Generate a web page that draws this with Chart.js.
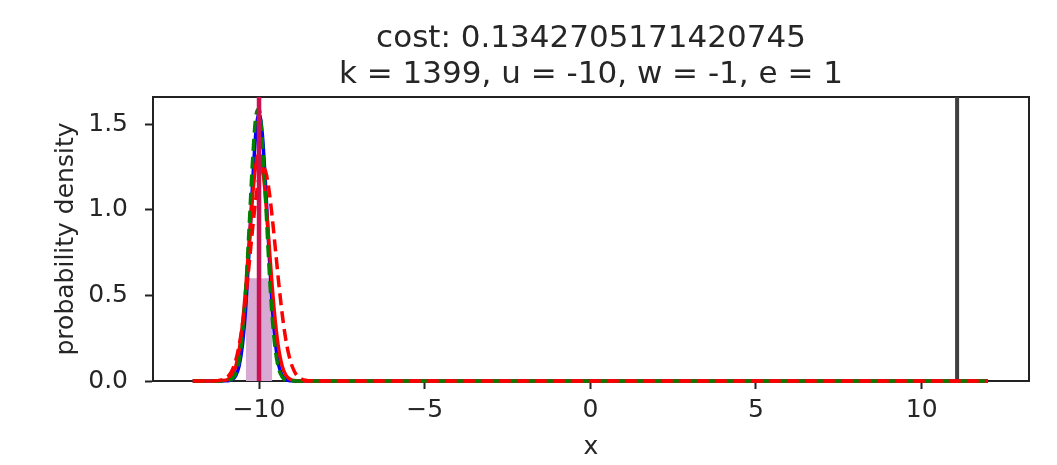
<!DOCTYPE html>
<html>
<head>
<meta charset="utf-8">
<script src="https://cdn.jsdelivr.net/npm/chart.js@4"></script>
<style>
  html, body { margin: 0; padding: 0; background: #fff; }
  canvas { display: block; }
</style>
</head>
<body>
<canvas id="densityChart" width="1057" height="465"></canvas>
<script>
// sample grid shared by the density curves
const xs = [-12, -11.5, -11, -10.9, -10.8, -10.7, -10.6, -10.5, -10.4, -10.3, -10.2, -10.1,
  -10.0, -9.9, -9.8, -9.7, -9.6, -9.5, -9.4, -9.3, -9.2, -9.1, -9.0, -8.9, -8.8, -8.7,
  -8.6, -8.5, -8, 12];

const bluePdf = [0, 0, 0.001, 0.003, 0.010, 0.032, 0.088, 0.211, 0.434, 0.760, 1.133, 1.440,
  1.560, 1.440, 1.133, 0.760, 0.434, 0.211, 0.088, 0.032, 0.010, 0.003, 0.001, 0, 0, 0,
  0, 0, 0, 0];
const greenPdf = [0, 0, 0.001, 0.004, 0.014, 0.044, 0.119, 0.273, 0.535, 0.893, 1.270, 1.539,
  1.589, 1.397, 1.048, 0.670, 0.365, 0.169, 0.067, 0.023, 0.006, 0.002, 0, 0, 0, 0,
  0, 0, 0, 0];
const redPdf = [0, 0, 0.005, 0.015, 0.038, 0.087, 0.180, 0.332, 0.547, 0.807, 1.065, 1.258,
  1.330, 1.258, 1.065, 0.807, 0.547, 0.332, 0.180, 0.087, 0.038, 0.015, 0.005, 0.002, 0, 0,
  0, 0, 0, 0];
const redDashedPdf = [0, 0, 0.016, 0.034, 0.067, 0.122, 0.208, 0.330, 0.490, 0.678, 0.877, 1.057,
  1.189, 1.248, 1.223, 1.117, 0.953, 0.758, 0.563, 0.390, 0.252, 0.152, 0.086, 0.045, 0.022, 0.010,
  0.004, 0.002, 0, 0];

// histogram bin of the samples
const binEdges = [-10.4, -9.6];
const binHeight = 0.6;

// vertical markers
const targetX = -10;
const boundX = 11.07;

const xTicks = [-10, -5, 0, 5, 10];
const yTicks = [0, 0.5, 1.0, 1.5];
const xRange = [-13.2, 13.24];
const yRange = [0, 1.658];

const titleLines = ['cost: 0.1342705171420745', 'k = 1399, u = -10, w = -1, e = 1'];

const FONT = "'DejaVu Sans', sans-serif";
const TEXT = '#262626';

const pts = ys => xs.map((x, i) => ({ x: x, y: ys[i] }));
const vline = x => [{ x: x, y: yRange[0] }, { x: x, y: yRange[1] }];

const curve = (ys, color, dash, order) => ({
  data: pts(ys),
  borderColor: color,
  borderWidth: 3.5,
  borderDash: dash,
  pointRadius: 0,
  cubicInterpolationMode: 'monotone',
  clip: 4,
  order: order
});

const frame = {
  id: 'frame',
  beforeDatasetsDraw(chart) {
    const { ctx, chartArea: a } = chart;
    ctx.save();
    ctx.strokeStyle = '#222';
    ctx.lineWidth = 2;
    ctx.strokeRect(a.left, a.top, a.right - a.left, a.bottom - a.top);
    ctx.restore();
  },
  afterDraw(chart) {
    const { ctx, chartArea: a } = chart;
    const cx = (a.left + a.right) / 2;
    ctx.save();
    ctx.fillStyle = TEXT;
    ctx.font = '31px ' + FONT;
    ctx.textAlign = 'center';
    ctx.textBaseline = 'alphabetic';
    ctx.fillText(titleLines[0], cx, 47);
    ctx.fillText(titleLines[1], cx, 83);
    ctx.restore();
  }
};

new Chart(document.getElementById('densityChart').getContext('2d'), {
  type: 'line',
  data: {
    datasets: [
      {
        data: vline(targetX),
        borderColor: '#cc1150',
        borderWidth: 4.5,
        pointRadius: 0,
        clip: 4,
        order: 0
      },
      curve(redDashedPdf, '#ff0000', [12, 6], 1),
      curve(greenPdf, '#008000', [12, 6], 2),
      curve(redPdf, '#ff0000', [], 3),
      curve(bluePdf, '#0000ff', [], 4),
      {
        data: [
          { x: binEdges[0], y: 0 }, { x: binEdges[0], y: binHeight },
          { x: binEdges[1], y: binHeight }, { x: binEdges[1], y: 0 }
        ],
        borderWidth: 0,
        borderColor: 'rgba(0,0,0,0)',
        backgroundColor: '#d8a9d3',
        fill: 'origin',
        pointRadius: 0,
        order: 5
      },
      {
        data: vline(boundX),
        borderColor: '#3f3f3f',
        borderWidth: 4,
        pointRadius: 0,
        clip: 4,
        order: 6
      }
    ]
  },
  options: {
    responsive: false,
    animation: false,
    devicePixelRatio: 1,
    layout: { padding: { top: 97, right: 28, left: 0, bottom: 0 } },
    plugins: {
      legend: { display: false },
      tooltip: { enabled: false },
      title: { display: false }
    },
    scales: {
      x: {
        type: 'linear',
        min: xRange[0],
        max: xRange[1],
        afterBuildTicks: s => { s.ticks = xTicks.map(v => ({ value: v })); },
        afterFit: s => { s.height = 84; },
        ticks: {
          color: TEXT,
          font: { family: FONT, size: 25 },
          padding: 6,
          maxRotation: 0,
          callback: v => (v < 0 ? '\u2212' + Math.abs(v) : String(v))
        },
        grid: { drawOnChartArea: false, drawTicks: true, tickLength: 8, tickColor: '#222', tickWidth: 2 },
        border: { display: true, color: '#222', width: 2 },
        title: {
          display: true,
          text: 'x',
          color: TEXT,
          font: { family: FONT, size: 25 },
          padding: { top: 0, bottom: 3 }
        }
      },
      y: {
        type: 'linear',
        min: yRange[0],
        max: yRange[1],
        afterBuildTicks: s => { s.ticks = yTicks.map(v => ({ value: v })); },
        afterFit: s => { s.width = 153; },
        ticks: {
          color: TEXT,
          font: { family: FONT, size: 25 },
          padding: 17,
          callback: v => v.toFixed(1)
        },
        grid: { drawOnChartArea: false, drawTicks: true, tickLength: 8, tickColor: '#222', tickWidth: 2 },
        border: { display: true, color: '#222', width: 2 },
        title: {
          display: true,
          text: 'probability density',
          color: TEXT,
          font: { family: FONT, size: 25 },
          padding: { top: 51, bottom: 0 }
        }
      }
    }
  },
  plugins: [frame]
});
</script>
</body>
</html>
